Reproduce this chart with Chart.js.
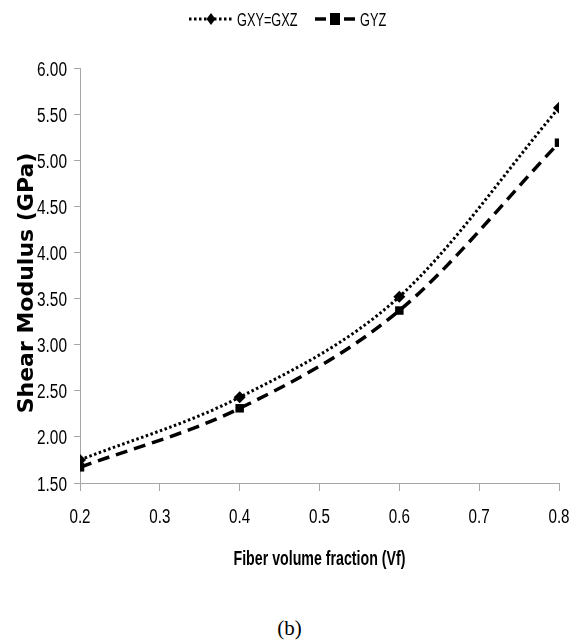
<!DOCTYPE html>
<html>
<head>
<meta charset="utf-8">
<script src="https://cdn.jsdelivr.net/npm/chart.js@4/dist/chart.umd.min.js"></script>
<style>
  html, body { margin: 0; padding: 0; background: #fff; }
  #wrap { position: relative; width: 579px; height: 641px; }
  canvas { position: absolute; left: 0; top: 0; }
  #cap { position: absolute; left: 0; width: 579px; top: 616px; text-align: center;
         font-family: 'Liberation Serif', 'DejaVu Serif', serif; font-size: 21px; color: #000; }
</style>
</head>
<body>
<div id="wrap">
  <canvas id="c" width="579" height="600"></canvas>
  <div id="cap">(b)</div>
</div>
<script>
// ---- data ----
const fiberFractions = [0.2, 0.4, 0.6, 0.8];
const seriesNames = ['GXY=GXZ', 'GYZ'];
const gxyGxz = [1.75, 2.43, 3.52, 5.57];
const gyz = [1.67, 2.31, 3.37, 5.19];
const yTickMin = 1.5, yTickMax = 6.0, yTickStep = 0.5;
const xTickMin = 0.2, xTickMax = 0.8, xTickStep = 0.1;
const xTitle = 'Fiber volume fraction (Vf)';
const yTitle = 'Shear Modulus (GPa)';

const SANS = "'Liberation Sans', Arial, sans-serif";
const AXIS_GREY = '#a6a6a6';

function toPoints(vals) { return fiberFractions.map((x, i) => ({ x: x, y: vals[i] })); }

// draw text squeezed horizontally (to imitate a condensed face)
function narrowText(ctx, text, x, y, sx, align) {
  ctx.save();
  ctx.translate(x, y);
  ctx.scale(sx, 1);
  ctx.textAlign = align;
  ctx.fillText(text, 0, 0);
  ctx.restore();
}

const textPlugin = {
  id: 'narrowTexts',
  afterDraw(chart) {
    const ctx = chart.ctx;
    const xs = chart.scales.x, ys = chart.scales.y;
    ctx.save();
    ctx.fillStyle = '#000';
    ctx.textBaseline = 'alphabetic';
    // y tick labels
    ctx.font = '20px ' + SANS;
    ys.ticks.forEach(t => {
      const py = ys.getPixelForValue(t.value);
      narrowText(ctx, Number(t.value).toFixed(2), 67, py + 7.5, 0.77, 'right');
    });
    // x tick labels
    xs.ticks.forEach(t => {
      const px = xs.getPixelForValue(t.value);
      narrowText(ctx, Number(t.value).toFixed(1), px, 523, 0.76, 'center');
    });
    // x title
    ctx.font = 'bold 20px ' + SANS;
    narrowText(ctx, xTitle, (chart.chartArea.left + chart.chartArea.right) / 2, 565, 0.71, 'center');
    // y title (wide bold face, rotated)
    ctx.save();
    ctx.font = "bold 22px 'DejaVu Sans', Verdana, sans-serif";
    ctx.translate(33, 283);
    ctx.rotate(-Math.PI / 2);
    ctx.textAlign = 'center';
    ctx.fillText(yTitle, 0, 0);
    ctx.restore();
    // legend
    const y = 19;
    ctx.strokeStyle = '#000';
    ctx.lineWidth = 3;
    ctx.setLineDash([2.5, 2.5]);
    ctx.beginPath(); ctx.moveTo(189, y); ctx.lineTo(232, y); ctx.stroke();
    ctx.setLineDash([]);
    ctx.beginPath();
    ctx.moveTo(211, y - 6); ctx.lineTo(215.5, y); ctx.lineTo(211, y + 6); ctx.lineTo(206.5, y); ctx.closePath(); ctx.fill();
    ctx.lineWidth = 3.5;
    ctx.beginPath(); ctx.moveTo(315, y); ctx.lineTo(326, y); ctx.stroke();
    ctx.beginPath(); ctx.moveTo(344, y); ctx.lineTo(355, y); ctx.stroke();
    ctx.fillRect(330, y - 6, 10, 12);
    ctx.font = '19px ' + SANS;
    narrowText(ctx, seriesNames[0], 237, y + 7, 0.67, 'left');
    narrowText(ctx, seriesNames[1], 360, y + 7, 0.67, 'left');
    ctx.restore();
  }
};

new Chart(document.getElementById('c'), {
  type: 'line',
  data: {
    datasets: [
      {
        label: seriesNames[0],
        data: toPoints(gxyGxz),
        borderColor: '#000', backgroundColor: '#000',
        borderWidth: 3, borderDash: [2.5, 2.5],
        cubicInterpolationMode: 'monotone',
        pointStyle: 'rectRot', pointRadius: 6, pointBorderWidth: 0,
        fill: false
      },
      {
        label: seriesNames[1],
        data: toPoints(gyz),
        borderColor: '#000', backgroundColor: '#000',
        borderWidth: 3.5, borderDash: [12, 7],
        cubicInterpolationMode: 'monotone',
        pointStyle: 'rect', pointRadius: 6, pointBorderWidth: 0,
        fill: false
      }
    ]
  },
  options: {
    responsive: false,
    animation: false,
    devicePixelRatio: 1,
    layout: { padding: { top: 68, right: 20, left: 0, bottom: 0 } },
    plugins: { legend: { display: false }, tooltip: { enabled: false } },
    scales: {
      x: {
        type: 'linear', min: xTickMin, max: xTickMax,
        afterFit(s) { s.height = 117; },
        afterBuildTicks(s) {
          const t = []; for (let v = xTickMin; v <= xTickMax + 1e-9; v += xTickStep) t.push({ value: +v.toFixed(1) });
          s.ticks = t;
        },
        ticks: { display: false },
        grid: { display: true, drawOnChartArea: false, drawTicks: true, tickLength: 8, color: AXIS_GREY, lineWidth: 1 },
        border: { display: true, color: AXIS_GREY, width: 1 },
        title: { display: false }
      },
      y: {
        min: yTickMin, max: yTickMax,
        afterFit(s) { s.width = 80; },
        ticks: { stepSize: yTickStep, display: false },
        grid: { display: true, drawOnChartArea: false, drawTicks: true, tickLength: 6, color: AXIS_GREY, lineWidth: 1 },
        border: { display: true, color: AXIS_GREY, width: 1 },
        title: { display: false }
      }
    }
  },
  plugins: [textPlugin]
});
</script>
</body>
</html>
